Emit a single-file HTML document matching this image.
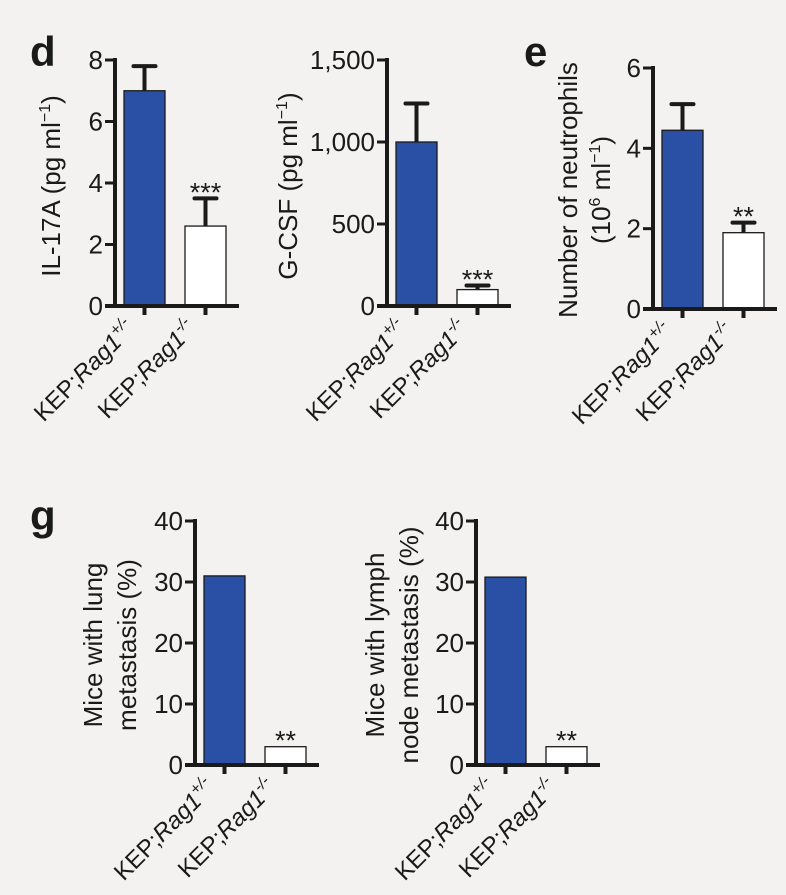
<!DOCTYPE html>
<html><head><meta charset="utf-8">
<style>
html,body{margin:0;padding:0;background:#f3f2f0;}
svg{display:block;font-family:"Liberation Sans",Arial,sans-serif;}
</style></head>
<body>
<svg id="fig" width="786" height="895" viewBox="0 0 786 895" xmlns="http://www.w3.org/2000/svg">
<rect width="786" height="895" fill="#f3f2f0"/>
<text x="30" y="66" font-size="42" font-weight="bold" fill="#1a1a1a">d</text>
<text x="524" y="66" font-size="42" font-weight="bold" fill="#1a1a1a">e</text>
<text x="30" y="530" font-size="42" font-weight="bold" fill="#1a1a1a">g</text>
</svg>
<script>
// Data
const categories = ["+/-", "-/-"];
const il17Values = [7.0, 2.6];
const il17ErrTop = [7.8, 3.5];
const il17Ticks = [0, 2, 4, 6, 8];
const gcsfValues = [1000, 100];
const gcsfErrTop = [1235, 125];
const gcsfTicks = [0, 500, 1000, 1500];
const gcsfTickLabels = ["0", "500", "1,000", "1,500"];
const neutroValues = [4.45, 1.9];
const neutroErrTop = [5.1, 2.15];
const neutroTicks = [0, 2, 4, 6];
const lungValues = [31, 3];
const lymphValues = [30.8, 3];
const metTicks = [0, 10, 20, 30, 40];
const il17Sig = "***";
const gcsfSig = "***";
const neutroSig = "**";
const lungSig = "**";
const lymphSig = "**";

const NS = "http://www.w3.org/2000/svg";
const svg = document.getElementById('fig');
function mk(tag, attrs, parent) {
  const e = document.createElementNS(NS, tag);
  for (const k in attrs) e.setAttribute(k, attrs[k]);
  (parent || svg).appendChild(e);
  return e;
}

function panel(p) {
  const g = mk('g', {});
  
  
  const y = v => p.y0 - (v / p.max) * (p.y0 - p.yTop);
  const barW = 41;
  const bx = i => p.ax + 9 + i * 61;
  p.values.forEach((v, i) => {
    const r = mk('rect', {x: bx(i), y: y(v), width: barW, height: p.y0 - y(v),
      fill: i === 0 ? '#2a50a5' : '#ffffff', stroke: '#1a1a1a', 'stroke-width': 1.3}, g);
    
    
    if (p.err) {
      const cx = bx(i) + barW / 2;
      const l = mk('line', {x1: cx, x2: cx, y1: y(v), y2: y(p.err[i]), stroke: '#1a1a1a', 'stroke-width': 4}, g);
      
      
      const c = mk('line', {x1: cx - 11, x2: cx + 11, y1: y(p.err[i]), y2: y(p.err[i]), stroke: '#1a1a1a', 'stroke-width': 4, 'stroke-linecap': 'round'}, g);
      
      
    }
  });
  const sigTop = p.err ? p.err[1] : p.values[1];
  const st = mk('text', {x: bx(1) + barW / 2, y: y(sigTop) + 3, 'font-size': 27, 'text-anchor': 'middle', fill: '#1a1a1a'}, g);
  st.textContent = p.sig;
  
  
  const ya = mk('line', {x1: p.ax, x2: p.ax, y1: p.yTop - 2, y2: p.y0 + 2, stroke: '#1a1a1a', 'stroke-width': 4}, g);
  
  
  const xa = mk('line', {x1: p.ax - 10, x2: p.ax + 124, y1: p.y0, y2: p.y0, stroke: '#1a1a1a', 'stroke-width': 4}, g);
  
  
  p.ticks.forEach((t, i) => {
    const tl = mk('line', {x1: p.ax - 10, x2: p.ax, y1: y(t), y2: y(t), stroke: '#1a1a1a', 'stroke-width': 3}, g);
    
    
    const tx = mk('text', {x: p.ax - 12, y: y(t) + 9, 'font-size': 26, 'text-anchor': 'end', fill: '#1a1a1a'}, g);
    tx.textContent = p.tickLabels ? p.tickLabels[i] : String(t);
    
    
  });
  categories.forEach((c, i) => {
    const cx = bx(i) + barW / 2;
    const tk = mk('line', {x1: cx, x2: cx, y1: p.y0, y2: p.y0 + 9, stroke: '#1a1a1a', 'stroke-width': 4}, g);
    
    
    const tx = mk('text', {x: cx - 8, y: p.y0 + 24, 'font-size': 24, 'text-anchor': 'end', fill: '#1a1a1a',
      transform: `rotate(-45 ${cx - 8} ${p.y0 + 24})`}, g);
    
    
    const a = mk('tspan', {}, tx); a.textContent = 'KEP;';
    const b = mk('tspan', {'font-style': 'italic'}, tx); b.textContent = 'Rag1';
    const s = mk('tspan', {'font-style': 'italic', 'font-size': 16, dy: -10}, tx); s.textContent = c;
  });
  p.title.forEach((line) => {
    const tx = mk('text', {x: line.x, y: p.titleY, 'font-size': 26, 'text-anchor': 'middle', fill: '#1a1a1a',
      transform: `rotate(-90 ${line.x} ${p.titleY})`}, g);
    
    
    line.parts.forEach(pt => {
      const ts = mk('tspan', pt.sup ? {'font-size': 16, dy: -10} : (pt.down ? {dy: 10} : {}), tx);
      ts.textContent = pt.t;
    });
  });
}

panel({name: 'il17a-chart', ax: 115, y0: 306, yTop: 60, max: 8, ticks: il17Ticks, values: il17Values, err: il17ErrTop, sig: il17Sig,
  titleY: 186, title: [{x: 60, parts: [{t: 'IL-17A (pg ml'}, {t: '−1', sup: true}, {t: ')', down: true}]}]});
panel({name: 'gcsf-chart', ax: 387, y0: 306, yTop: 60, max: 1500, ticks: gcsfTicks, tickLabels: gcsfTickLabels, values: gcsfValues, err: gcsfErrTop, sig: gcsfSig,
  titleY: 186, title: [{x: 297, parts: [{t: 'G-CSF (pg ml'}, {t: '−1', sup: true}, {t: ')', down: true}]}]});
panel({name: 'neutrophils-chart', ax: 653, y0: 309, yTop: 68, max: 6, ticks: neutroTicks, values: neutroValues, err: neutroErrTop, sig: neutroSig,
  titleY: 190, title: [{x: 577, parts: [{t: 'Number of neutrophils'}]}, {x: 610, parts: [{t: '(10'}, {t: '6', sup: true}, {t: ' ml', down: true}, {t: '−1', sup: true}, {t: ')', down: true}]}]});
panel({name: 'lung-metastasis-chart', ax: 195, y0: 765, yTop: 521, max: 40, ticks: metTicks, values: lungValues, sig: lungSig,
  titleY: 645, title: [{x: 102, parts: [{t: 'Mice with lung'}]}, {x: 136, parts: [{t: 'metastasis (%)'}]}]});
panel({name: 'lymph-metastasis-chart', ax: 476, y0: 765, yTop: 521, max: 40, ticks: metTicks, values: lymphValues, sig: lymphSig,
  titleY: 645, title: [{x: 384, parts: [{t: 'Mice with lymph'}]}, {x: 418, parts: [{t: 'node metastasis (%)'}]}]});
</script>
</body></html>
